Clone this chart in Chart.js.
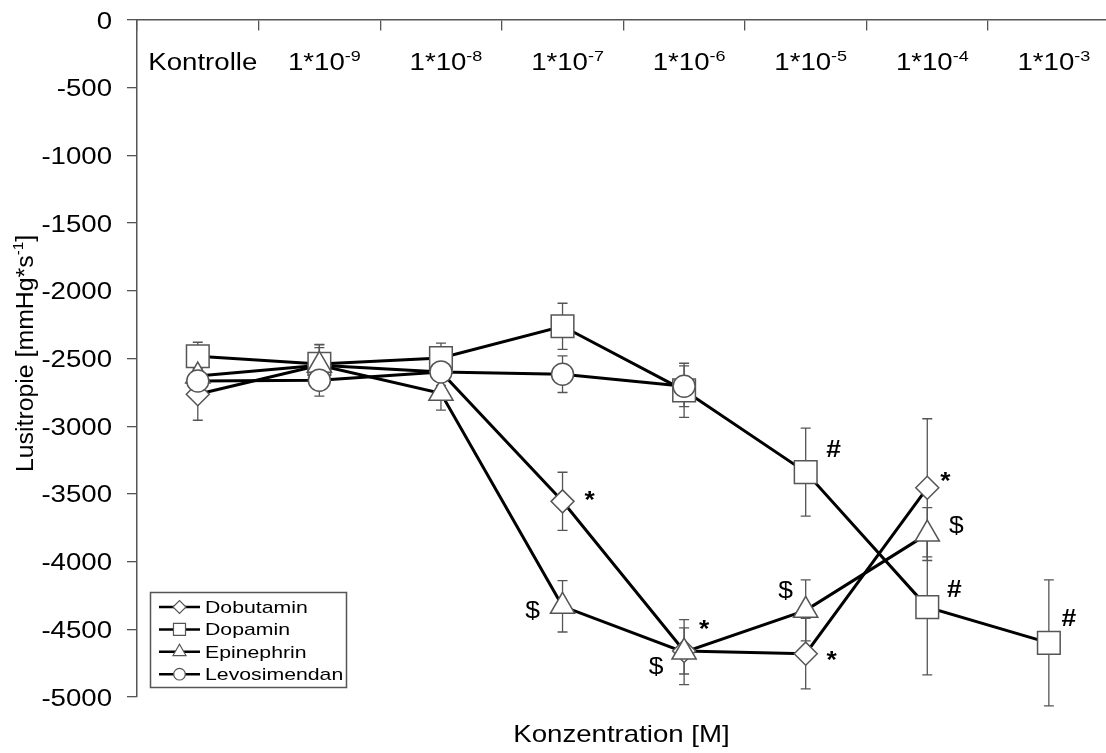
<!DOCTYPE html>
<html>
<head>
<meta charset="utf-8">
<script src="https://cdn.jsdelivr.net/npm/chart.js@4.4.0/dist/chart.umd.min.js"></script>
<style>
html,body{margin:0;padding:0;background:#fff;overflow:hidden;}
canvas{display:block;}
</style>
</head>
<body>
<canvas id="c" width="1106" height="753"></canvas>
<script>
// ---------------- DATA ----------------
const categories = ['Kontrolle', '1*10', '1*10', '1*10', '1*10', '1*10', '1*10', '1*10'];
const categoryExponents = ['', '-9', '-8', '-7', '-6', '-5', '-4', '-3'];
const xTickValues = [-0.5, 0.5, 1.5, 2.5, 3.5, 4.5, 5.5, 6.5];
const yTickValues = [0, -500, -1000, -1500, -2000, -2500, -3000, -3500, -4000, -4500, -5000];
const yTickLabels = ['0', '-500', '-1000', '-1500', '-2000', '-2500', '-3000', '-3500', '-4000', '-4500', '-5000'];

const seriesNames = ['Dobutamin', 'Dopamin', 'Epinephrin', 'Levosimendan'];
const dobutamin    = [-2764, -2550, -2600, -3555, -4660, -4680, -3455, null];
const dobutaminSE  = [192, 150, 120, 215, 170, 260, 510, null];
const dopamin      = [-2483, -2540, -2496, -2262, -2735, -3339, -4336, -4600];
const dopaminSE    = [103, 120, 110, 170, 200, 325, 500, 465];
const epinephrin   = [-2630, -2550, -2757, -4330, -4668, -4360, -3797, null];
const epinephrinSE = [120, 155, 125, 190, 240, 225, 195, null];
const levosimendan = [-2666, -2660, -2599, -2616, -2705, null, null, null];
const levosimendanSE = [110, 118, 100, 135, 150, null, null, null];

// significance marks: symbol, series index, category index
const annotSymbols = ['*', '$', '*', '$', '#', '$', '*', '*', '$', '#', '#'];
const annotSeries  = [0, 2, 0, 2, 1, 2, 0, 0, 2, 1, 1];
const annotIndex   = [3, 3, 4, 4, 5, 5, 5, 6, 6, 6, 7];

const xAxisTitle = 'Konzentration [M]';
const yAxisTitleMain = 'Lusitropie [mmHg*s';
const yAxisTitleSup = '-1';
const yAxisTitleEnd = ']';

// ---------------- STYLE ----------------
const values = [dobutamin, dopamin, epinephrin, levosimendan];
const errors = [dobutaminSE, dopaminSE, epinephrinSE, levosimendanSE];
const styles = [
  {pointStyle: 'rectRot', radius: 11.5, legendRadius: 6.5},
  {pointStyle: 'rect', radius: 16, legendRadius: 8.5},
  {pointStyle: 'triangle', radius: 14, legendRadius: 7.5},
  {pointStyle: 'circle', radius: 11, legendRadius: 5.8}
];
const pointOrder = [4, 3, 2, 1];
const annotOffsets = [
  [27, -7], [-30, 3], [20, -28], [-28, 14], [28, -24], [-20, -21],
  [26, 1], [18, -12], [29, -10], [27, -18], [20, -25]
];
const FONT = '"Liberation Sans", Arial, sans-serif';
const STRETCH = 1.2;

function toPoints(arr) {
  const out = [];
  arr.forEach((v, i) => { if (v !== null) out.push({x: i, y: v}); });
  return out;
}

const datasets = [];
values.forEach((arr, s) => {
  datasets.push({
    label: seriesNames[s] + ' line',
    data: toPoints(arr),
    borderColor: '#000',
    borderWidth: 3,
    pointRadius: 0,
    pointHoverRadius: 0,
    fill: false,
    tension: 0,
    order: 10 + s
  });
});
values.forEach((arr, s) => {
  datasets.push({
    label: seriesNames[s],
    data: toPoints(arr),
    showLine: false,
    pointStyle: styles[s].pointStyle,
    pointRadius: styles[s].radius,
    pointHoverRadius: styles[s].radius,
    pointBackgroundColor: '#fff',
    pointBorderColor: '#555',
    pointBorderWidth: 1.5,
    order: pointOrder[s],
    clip: false
  });
});

function stretchText(ctx, text, x, y, size, align, sx, weight) {
  ctx.save();
  ctx.font = (weight || 'normal') + ' ' + size + 'px ' + FONT;
  ctx.textAlign = 'left';
  ctx.textBaseline = 'alphabetic';
  const w = ctx.measureText(text).width * sx;
  let x0 = x;
  if (align === 'center') x0 = x - w / 2;
  else if (align === 'right') x0 = x - w;
  ctx.translate(x0, y);
  ctx.scale(sx, 1);
  ctx.fillStyle = '#000';
  ctx.fillText(text, 0, 0);
  ctx.restore();
  return w;
}
function textWidth(ctx, text, size, sx) {
  ctx.save();
  ctx.font = size + 'px ' + FONT;
  const w = ctx.measureText(text).width * sx;
  ctx.restore();
  return w;
}

const errorBarPlugin = {
  id: 'errorBars',
  beforeDatasetsDraw(chart) {
    const ctx = chart.ctx, xs = chart.scales.x, ys = chart.scales.y;
    ctx.save();
    ctx.strokeStyle = '#555';
    ctx.lineWidth = 1.3;
    values.forEach((arr, s) => {
      arr.forEach((v, i) => {
        const e = errors[s][i];
        if (v === null || e === null) return;
        const x = xs.getPixelForValue(i);
        const y1 = ys.getPixelForValue(v + e);
        const y2 = ys.getPixelForValue(v - e);
        ctx.beginPath();
        ctx.moveTo(x, y1); ctx.lineTo(x, y2);
        ctx.moveTo(x - 5, y1); ctx.lineTo(x + 5, y1);
        ctx.moveTo(x - 5, y2); ctx.lineTo(x + 5, y2);
        ctx.stroke();
      });
    });
    ctx.restore();
  }
};

const textPlugin = {
  id: 'texts',
  afterDraw(chart) {
    const ctx = chart.ctx, xs = chart.scales.x, ys = chart.scales.y, ca = chart.chartArea;
    // y tick labels
    yTickValues.forEach((v, k) => {
      const py = ys.getPixelForValue(v);
      stretchText(ctx, yTickLabels[k], ca.left - 25, py + 8.5, 23, 'right', STRETCH);
    });
    // x category labels with superscript exponents
    categories.forEach((c, i) => {
      const cx = xs.getPixelForValue(i) + 5;
      const wb = textWidth(ctx, c, 23, STRETCH);
      const we = categoryExponents[i] ? textWidth(ctx, categoryExponents[i], 15, STRETCH) : 0;
      const x0 = cx - (wb + we) / 2;
      const base = ca.top + 50;
      stretchText(ctx, c, x0, base, 23, 'left', STRETCH);
      if (categoryExponents[i]) stretchText(ctx, categoryExponents[i], x0 + wb, base - 9, 15, 'left', STRETCH);
    });
    // x axis title
    stretchText(ctx, xAxisTitle, (ca.left + ca.right) / 2, ca.bottom + 45, 24, 'center', 1.15);
    // y axis title (rotated)
    ctx.save();
    ctx.translate(33, (ca.top + ca.bottom) / 2 - 5);
    ctx.rotate(-Math.PI / 2);
    const sy = 1.08;
    const w1 = textWidth(ctx, yAxisTitleMain, 23, sy);
    const w2 = textWidth(ctx, yAxisTitleSup, 14, sy);
    const w3 = textWidth(ctx, yAxisTitleEnd, 23, sy);
    let sx0 = -(w1 + w2 + w3) / 2;
    stretchText(ctx, yAxisTitleMain, sx0, 0, 23, 'left', sy);
    stretchText(ctx, yAxisTitleSup, sx0 + w1, -10, 14, 'left', sy);
    stretchText(ctx, yAxisTitleEnd, sx0 + w1 + w2, 0, 23, 'left', sy);
    ctx.restore();
    // significance marks
    annotSymbols.forEach((sym, k) => {
      const s = annotSeries[k], i = annotIndex[k];
      const px = xs.getPixelForValue(i) + annotOffsets[k][0];
      const cy = ys.getPixelForValue(values[s][i]) + annotOffsets[k][1];
      const size = 24;
      const lift = sym === '*' ? 0.57 : 0.35;
      stretchText(ctx, sym, px, cy + lift * size, size, 'center', 1.1, sym === '$' ? 'normal' : 'bold');
    });
    // legend
    const lx = 150.5, ly = 592.5, lw = 196, lh = 95;
    ctx.save();
    ctx.fillStyle = '#fff';
    ctx.fillRect(lx, ly, lw, lh);
    ctx.strokeStyle = '#555';
    ctx.lineWidth = 1.5;
    ctx.strokeRect(lx, ly, lw, lh);
    ctx.restore();
    seriesNames.forEach((name, s) => {
      const ry = 607 + s * 22.4;
      ctx.save();
      ctx.strokeStyle = '#000';
      ctx.lineWidth = 2.5;
      ctx.beginPath();
      ctx.moveTo(159, ry); ctx.lineTo(200, ry);
      ctx.stroke();
      ctx.fillStyle = '#fff';
      ctx.strokeStyle = '#555';
      ctx.lineWidth = 1.2;
      Chart.helpers.drawPoint(ctx, {pointStyle: styles[s].pointStyle, radius: styles[s].legendRadius, borderWidth: 1.2}, 179.5, ry);
      ctx.restore();
      stretchText(ctx, name, 205, ry + 6, 17, 'left', 1.25);
    });
  }
};

new Chart(document.getElementById('c'), {
  type: 'line',
  data: {datasets},
  options: {
    responsive: false,
    animation: false,
    devicePixelRatio: 1,
    layout: {autoPadding: false, padding: {top: 20, bottom: 56, left: 0, right: 0}},
    plugins: {legend: {display: false}, tooltip: {enabled: false}},
    events: [],
    scales: {
      x: {
        type: 'linear',
        position: {y: 0},
        min: -0.5,
        max: 7.47,
        afterBuildTicks: (scale) => { scale.ticks = xTickValues.map(v => ({value: v})); },
        ticks: {display: false},
        grid: {drawOnChartArea: false, drawTicks: true, tickLength: 10, color: '#555', lineWidth: 1.3},
        border: {display: true, color: '#555', width: 1.5}
      },
      y: {
        type: 'linear',
        position: 'left',
        min: -5000,
        max: 0,
        afterBuildTicks: (scale) => { scale.ticks = yTickValues.map(v => ({value: v})); },
        afterFit: (scale) => { scale.width = 137; },
        ticks: {display: false},
        grid: {drawOnChartArea: false, drawTicks: true, tickLength: 10, color: '#555', lineWidth: 1.3},
        border: {display: true, color: '#555', width: 1.5}
      }
    }
  },
  plugins: [errorBarPlugin, textPlugin]
});
</script>
</body>
</html>
